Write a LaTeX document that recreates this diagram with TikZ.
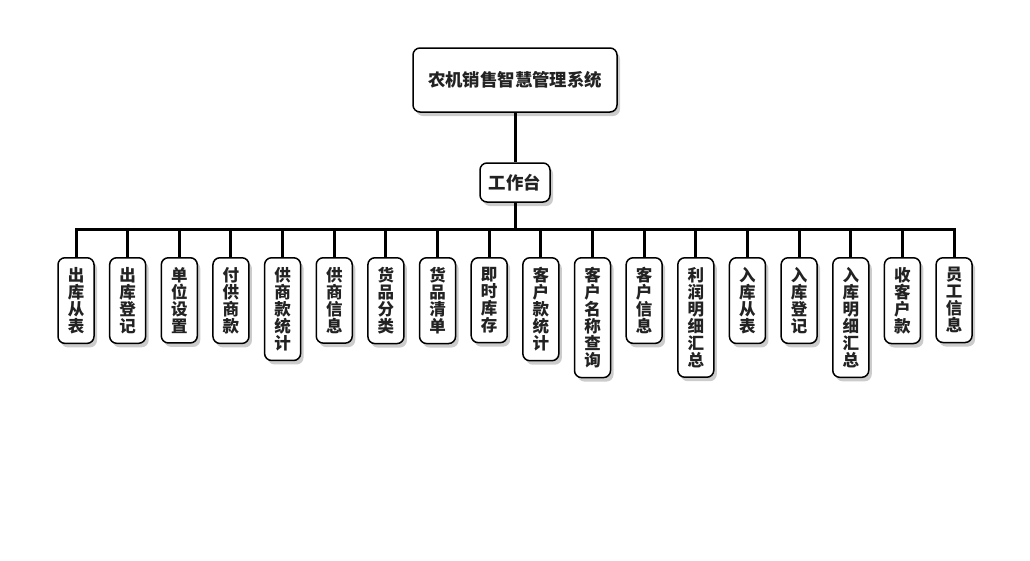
\documentclass[tikz,border=0pt]{standalone}
\usepackage{fontspec}
\setmainfont{Noto Sans CJK SC}
\usetikzlibrary{positioning,shadows}
\definecolor{inkcol}{HTML}{222222}
\tikzset{
  box/.style={draw=black, line width=1.5pt, rounded corners=7pt, fill=white, text=inkcol,
    drop shadow={shadow xshift=3pt, shadow yshift=-4pt, fill=black!40}},
  leaf/.style={box, anchor=north, text width=17pt, align=center, inner xsep=9.5pt, inner ysep=9.5pt,
    font=\bfseries\fontsize{16.5pt}{17pt}\selectfont},
  link/.style={line width=3pt}
}

\begin{document}
\begin{tikzpicture}[x=1pt,y=-1pt]
  \useasboundingbox (0,0) rectangle (1030,560);
  \node[box, minimum width=204pt, minimum height=64pt, font=\bfseries\fontsize{17.4pt}{19pt}\selectfont] (root) at (515,80) {农机销售智慧管理系统};
  \node[box, minimum width=70pt, minimum height=39pt, font=\bfseries\fontsize{17.4pt}{19pt}\selectfont] (desk) at (515,182.5) {工作台};
  \coordinate (bar) at (515,229);
  \draw[link] (root) -- (desk);
  \draw[link] (desk) -- (bar);
  % leaves hang from the bar
  \foreach \lab [count=\i] in {{出\\库\\从\\表},{出\\库\\登\\记},{单\\位\\设\\置},{付\\供\\商\\款},
      {供\\商\\款\\统\\计},{供\\商\\信\\息},{货\\品\\分\\类},{货\\品\\清\\单},{即\\时\\库\\存},
      {客\\户\\款\\统\\计},{客\\户\\名\\称\\查\\询},{客\\户\\信\\息},{利\\润\\明\\细\\汇\\总},
      {入\\库\\从\\表},{入\\库\\登\\记},{入\\库\\明\\细\\汇\\总},{收\\客\\户\\款},{员\\工\\信\\息}}{
    \node[leaf] (l\i) at ({76+(\i-1)*51.65},257) {\lab};
    \draw[link] (l\i) -- (l\i |- bar);
  }
  \draw[link] (l1.north) -- (l1 |- bar) -- (l18 |- bar) -- (l18.north);
\end{tikzpicture}
\end{document}
